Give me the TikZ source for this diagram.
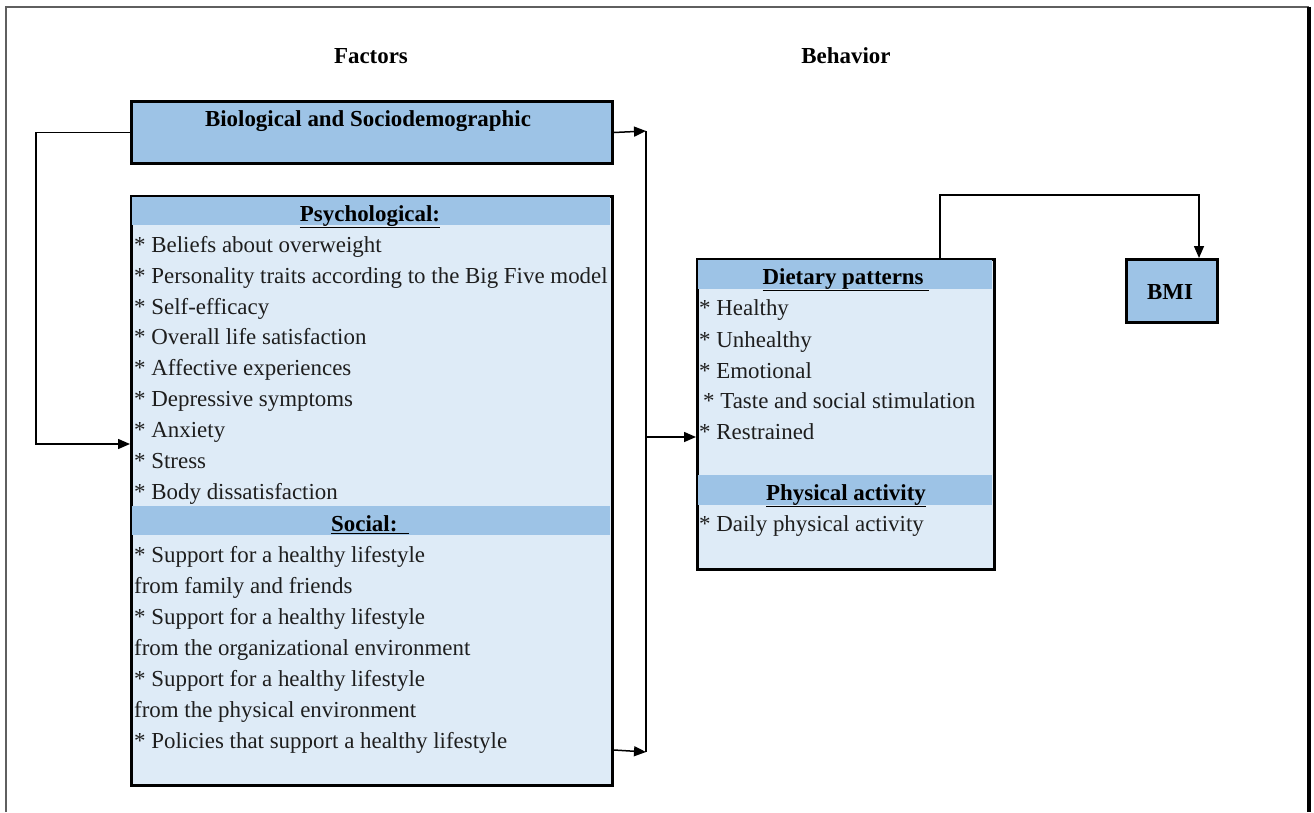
\documentclass[tikz,border=0pt]{standalone}
\usepackage{fontspec}
\setmainfont{Liberation Serif}
\usetikzlibrary{arrows.meta}
\definecolor{hdr}{RGB}{157,195,230}
\definecolor{pane}{RGB}{222,235,247}
\definecolor{framegray}{RGB}{95,95,95}
\definecolor{ink}{RGB}{30,30,30}
\begin{document}
\begin{tikzpicture}[x=1bp,y=-1bp,
  font=\fontsize{23}{27}\selectfont,
  panel/.style={draw, line width=3bp, inner sep=0, anchor=north west},
  band/.style={fill=hdr, draw=none, inner sep=0, anchor=north west},
  item/.style={anchor=west, inner sep=0, text=ink, text height=0.7em, text depth=0.25em},
  head/.style={inner sep=0, font=\fontsize{23}{27}\selectfont\bfseries, text height=0.7em, text depth=0.25em},
  link/.style={line width=1.5bp, -{Triangle[length=12bp,width=10bp]}},
  wire/.style={line width=1.5bp}]
\useasboundingbox (0,0) rectangle (1314,812);

% outer frame (bottom edge runs off the page)
\draw[framegray, line width=1.2bp] (6,812) -- (6,7) -- (1309,7);
\draw[line width=3.5bp] (1309,7) -- (1309,812);

% column titles
\node[head] (tfac) at (371,61) {Factors};
\node[head] (tbeh) at (846,61) {Behavior};

% biological and sociodemographic box
\node[panel, fill=hdr, minimum width=481bp, minimum height=62bp] (bio) at (130,100) {};
\node[head] (biot) at (368,124) {Biological and Sociodemographic};

% psychological / social box
\node[panel, fill=pane, minimum width=481bp, minimum height=589bp] (psych) at (130,195) {};
\node[band, minimum width=478bp, minimum height=28bp] (psyb) at (131.5,197) {};
\node[band, minimum width=478bp, minimum height=29bp] (socb) at (131.5,506) {};
\node[head] (psyt) at (370,219) {\underline{Psychological:}};
\node[head] (soct) at (370,529) {\underline{Social:\ \ }};

\foreach \t [count=\i] in {
  {* Beliefs about overweight},
  {* Personality traits according to the Big Five model},
  {* Self-efficacy},
  {* Overall life satisfaction},
  {* Affective experiences},
  {* Depressive symptoms},
  {* Anxiety},
  {* Stress},
  {* Body dissatisfaction}}
  \node[item] (p\i) at (134,{250+30.9*(\i-1)}) {\t};

\foreach \t [count=\i] in {
  {* Support for a healthy lifestyle},
  {from family and friends},
  {* Support for a healthy lifestyle},
  {from the organizational environment},
  {* Support for a healthy lifestyle},
  {from the physical environment},
  {* Policies that support a healthy lifestyle}}
  \node[item] (s\i) at (134,{560+31*(\i-1)}) {\t};

% dietary patterns / physical activity box
\node[panel, fill=pane, minimum width=297bp, minimum height=310bp] (diet) at (696,258) {};
\node[band, minimum width=294bp, minimum height=29bp] (dieb) at (697.5,260) {};
\node[band, minimum width=294bp, minimum height=30bp] (phyb) at (697.5,475) {};
\node[head] (diett) at (846,282) {\underline{Dietary patterns\ }};
\node[head] (phyt) at (846,498) {\underline{Physical activity}};
\node[item] (d1) at (699,313) {* Healthy};
\node[item] (d2) at (699,345) {* Unhealthy};
\node[item] (d3) at (699,376) {* Emotional};
\node[item] (d4) at (703,406) {* Taste and social stimulation};
\node[item] (d5) at (699,437) {* Restrained};
\node[item] (a1) at (699,529) {* Daily physical activity};

% BMI box
\node[panel, fill=hdr, minimum width=91bp, minimum height=63bp] (bmi) at (1125,258) {};
\node[head] (bmit) at (1170,297) {BMI};

% connectors
\coordinate (loop) at (36,444);
\coordinate (bustop) at (646,131);
\coordinate (busbot) at (646,752);
\coordinate (busmid) at (646,437);
\coordinate (dtop) at (940,195);
\coordinate (bmitop) at (1199,195);

\draw[link] (bio.west) -| (loop) -- (psych.west |- loop);
\draw[link] (bio.east) -- (bustop);
\draw[wire] (bustop) -- (busbot);
\draw[link] (psych.east |- 0,750) -- (busbot);
\draw[link] (busmid) -- (diet.west |- busmid);
\draw[link] (diet.north -| dtop) -- (dtop) -- (bmitop) -- (bmi.north -| bmitop);
\end{tikzpicture}
\end{document}
